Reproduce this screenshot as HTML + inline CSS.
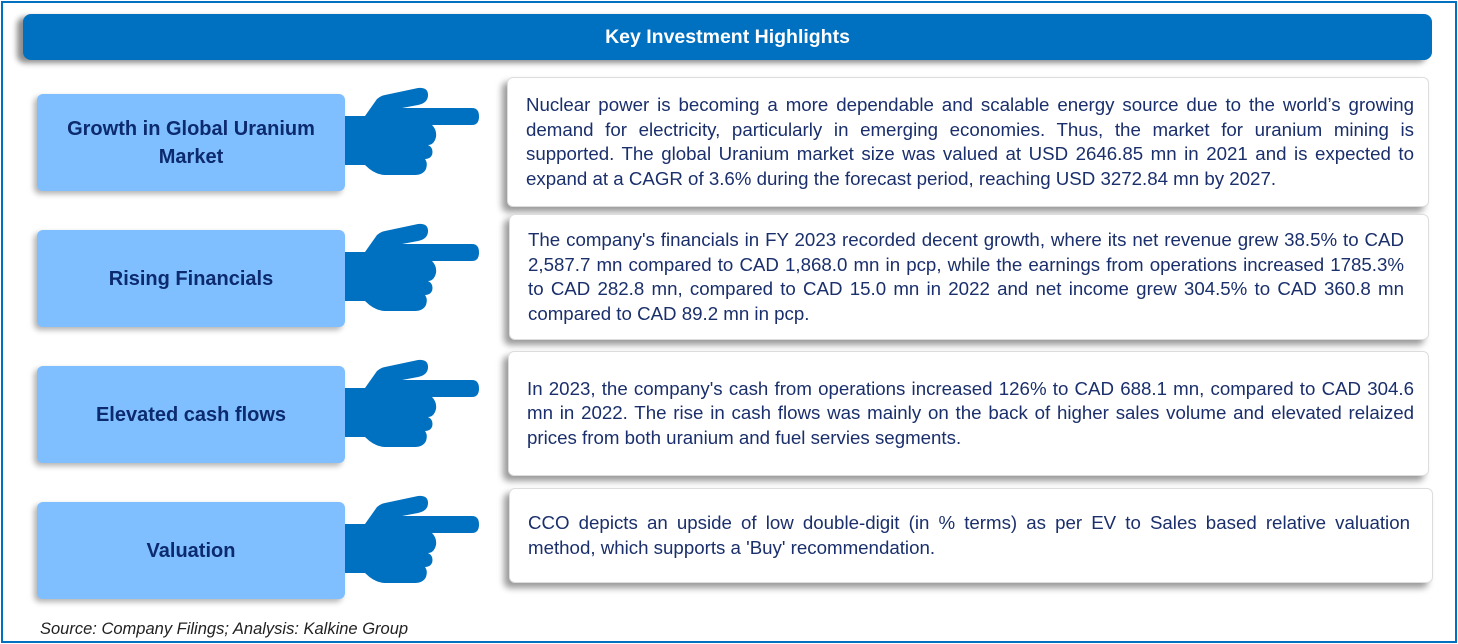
<!DOCTYPE html>
<html><head><meta charset="utf-8"><style>
body{margin:0;width:1458px;height:644px;background:#fff;position:relative;overflow:hidden;font-family:"Liberation Sans",sans-serif}
.frame{position:absolute;left:1px;top:1px;width:1452px;height:638px;border:2px solid #0070c0}
.hdr{position:absolute;left:23px;top:14px;width:1409px;height:46px;background:#0070c0;border-radius:8px;box-shadow:-6px 3px 6px rgba(0,0,0,.45);color:#fff;font-weight:bold;font-size:19.5px;display:flex;align-items:center;justify-content:center}
.lbl{position:absolute;left:37px;width:308px;height:97px;background:#80bfff;border-radius:6px;box-shadow:-3px 3px 6px rgba(0,0,0,.3);color:#0c2a6e;font-weight:bold;font-size:20px;display:flex;align-items:center;justify-content:center;text-align:center;line-height:28px}
.txt{position:absolute;background:#fff;border-radius:6px;box-shadow:-5px 5px 7px rgba(0,0,0,.4);border:1px solid #ddd;color:#1a2f6b;font-size:18.7px;line-height:24.5px;text-align:justify;padding:0 14px 0 18px;box-sizing:border-box;display:flex;align-items:center}
.src{position:absolute;left:40px;top:620px;font-style:italic;font-size:16.5px;color:#222}
</style></head><body>
<div class="frame"></div>
<div class="hdr">Key Investment Highlights</div>

<div class="lbl" style="top:94px">Growth in Global Uranium<br>Market</div>
<div class="lbl" style="top:230px">Rising Financials</div>
<div class="lbl" style="top:366px">Elevated cash flows</div>
<div class="lbl" style="top:502px">Valuation</div>

<svg style="position:absolute;left:0;top:0" width="1458" height="644">
<defs><path id="hand" d="M345,116 L365,116 L377,99 Q380,96 385,95 L418,88 Q428,87 428,95 Q428,103 418,105 L402,108 L472,108 Q479,108 479,116.5 Q479,125 472,125 L432,125 Q437,130 436,137 Q434,145 428,145 Q434,148 432,155 Q430,159 425,159 Q428,163 426,169 Q423,175 415,175 L385,175 Q375,175 365,165 L345,165 Z" fill="#0070c0"/></defs>
<use href="#hand"/>
<use href="#hand" transform="translate(0,136)"/>
<use href="#hand" transform="translate(0,272)"/>
<use href="#hand" transform="translate(0,408)"/>
</svg>

<div class="txt" style="left:507px;top:77px;width:922px;height:130px"><div>Nuclear power is becoming a more dependable and scalable energy source due to the world’s growing demand for electricity, particularly in emerging economies. Thus, the market for uranium mining is supported. The global Uranium market size was valued at USD 2646.85 mn in 2021 and is expected to expand at a CAGR of 3.6% during the forecast period, reaching USD 3272.84 mn by 2027.</div></div>
<div class="txt" style="left:509px;top:214px;width:920px;height:126px;padding-right:24px"><div>The company's financials in FY 2023 recorded decent growth, where its net revenue grew 38.5% to CAD 2,587.7 mn compared to CAD 1,868.0 mn in pcp, while the earnings from operations increased 1785.3% to CAD 282.8 mn, compared to CAD 15.0 mn in 2022 and net income grew 304.5% to CAD 360.8 mn compared to CAD 89.2 mn in pcp.</div></div>
<div class="txt" style="left:508px;top:351px;width:921px;height:125px"><div>In 2023, the company's cash from operations increased 126% to CAD 688.1 mn, compared to CAD 304.6 mn in 2022. The rise in cash flows was mainly on the back of higher sales volume and elevated relaized prices from both uranium and fuel servies segments.</div></div>
<div class="txt" style="left:509px;top:488px;width:924px;height:95px;padding-right:22px"><div>CCO depicts an upside of low double-digit (in % terms) as per EV to Sales based relative valuation method, which supports a 'Buy' recommendation.</div></div>

<div class="src">Source: Company Filings; Analysis: Kalkine Group</div>
</body></html>
